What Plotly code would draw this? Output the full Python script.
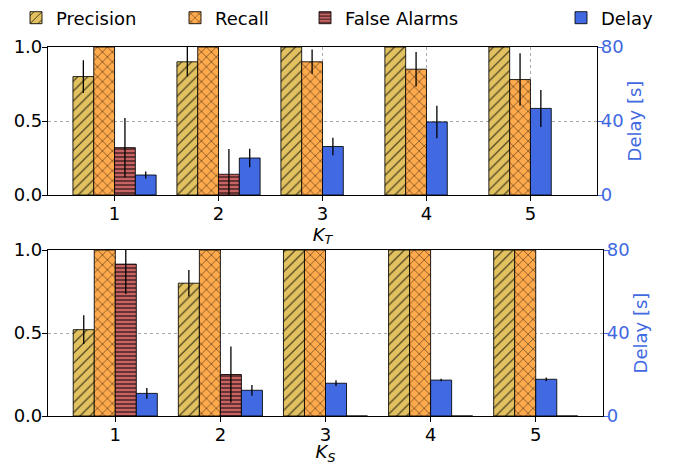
import plotly.graph_objects as go

K = [1, 2, 3, 4, 5]

# Top panel (K_T)
prec_T = [0.80, 0.90, 1.00, 1.00, 1.00]
prec_T_err = [0.11, 0.10, 0.0, 0.0, 0.0]
rec_T = [1.00, 1.00, 0.90, 0.85, 0.78]
rec_T_err = [0.0, 0.0, 0.083, 0.117, 0.177]
fa_T = [0.32, 0.14, None, None, None]
fa_T_err = [0.20, 0.17, 0.0, 0.0, 0.0]
delay_T = [10.8, 20.0, 26.2, 39.5, 46.8]
delay_T_err = [1.9, 5.0, 4.7, 8.8, 10.0]

# Bottom panel (K_S)
prec_S = [0.52, 0.80, 1.00, 1.00, 1.00]
prec_S_err = [0.087, 0.08, 0.0, 0.0, 0.0]
rec_S = [1.00, 1.00, 1.00, 1.00, 1.00]
rec_S_err = [0.0, 0.0, 0.0, 0.0, 0.0]
fa_S = [0.915, 0.25, 0.0, 0.0, 0.0]
fa_S_err = [0.18, 0.168, 0.0, 0.0, 0.0]
delay_S = [10.9, 12.4, 15.8, 17.3, 17.7]
delay_S_err = [2.6, 2.6, 1.4, 0.6, 0.9]

# slot offsets (left edge relative to category): FA and Delay swap slots for K>=3
off_prec = [-0.4] * 5
off_rec = [-0.2] * 5
off_fa = [0.0, 0.0, 0.2, 0.2, 0.2]
off_delay = [0.2, 0.2, 0.0, 0.0, 0.0]

C_PREC = "#e2c160"
C_REC = "#ffaa4c"
C_FA = "#c86363"
C_DELAY = "#4169e1"
EDGE = "rgba(0,0,0,0.85)"
FONT = "DejaVu Sans"

# page body has an 8px margin; work in window pixels and subtract it
OFF = 8
W, H = 675 - OFF, 465 - OFF
PL, PR, PT, PB = 48, 603, 47, 416          # plot block in window pixels
L, T = PL - OFF, PT - OFF
R, B = W - (PR - OFF), H - (PB - OFF)
PW = W - L - R
PH = H - T - B


def eb(arr):
    return dict(type="data", array=arr, visible=True, color="black",
                thickness=1.3, width=0)


def bar(name, y, err, off, color, shape, xa, ya, legend, show, size=7, sol=0.15):
    pattern = dict(shape=shape, fgcolor="rgba(0,0,0,0.9)", fgopacity=0.9,
                   size=size, solidity=sol) if shape else None
    return go.Bar(
        name=name, x=K, y=y, offset=off, width=0.2,
        marker=dict(color=color, line=dict(color=EDGE, width=1),
                    pattern=pattern),
        error_y=eb(err), xaxis=xa, yaxis=ya, legend=legend,
        showlegend=show,
    )


fig = go.Figure()
fig.add_trace(bar("Precision", prec_T, prec_T_err, off_prec, C_PREC, "/", "x", "y", "legend", True))
fig.add_trace(bar("Recall", rec_T, rec_T_err, off_rec, C_REC, "x", "x", "y", "legend2", True))
fig.add_trace(bar("False Alarms", fa_T, fa_T_err, off_fa, C_FA, "-", "x", "y", "legend3", True, size=4, sol=0.3))
fig.add_trace(bar("Delay", delay_T, delay_T_err, off_delay, C_DELAY, "", "x", "y2", "legend4", True))

fig.add_trace(bar("Precision", prec_S, prec_S_err, off_prec, C_PREC, "/", "x2", "y3", "legend", False))
fig.add_trace(bar("Recall", rec_S, rec_S_err, off_rec, C_REC, "x", "x2", "y3", "legend2", False))
fig.add_trace(bar("False Alarms", fa_S, fa_S_err, off_fa, C_FA, "-", "x2", "y3", "legend3", False, size=4, sol=0.3))
fig.add_trace(bar("Delay", delay_S, delay_S_err, off_delay, C_DELAY, "", "x2", "y4", "legend4", False))

top_dom = [(PB - 195) / PH, (PB - 47) / PH]
bot_dom = [0, (PB - 250) / PH]
top_xdom = [0, (597 - PL) / PW]

xcommon = dict(range=[0.36, 5.64], tickvals=K, ticks="outside", ticklen=5,
               tickcolor="black", showline=True, linecolor="black",
               linewidth=1.2, mirror=True, showgrid=True,
               gridcolor="#aaaaaa", griddash="dot", gridwidth=1,
               zeroline=False, ticklabelstandoff=-3,
               tickfont=dict(size=18, color="black"))
ycommon = dict(range=[0, 1], tickvals=[0, 0.5, 1.0], ticktext=["0.0", "0.5", "1.0"],
               ticks="outside", ticklen=5, tickcolor="black", showline=True,
               linecolor="black", linewidth=1.2, showgrid=True,
               gridcolor="#aaaaaa", griddash="dot", gridwidth=1,
               zeroline=False, ticklabelstandoff=-4,
               tickfont=dict(size=18, color="black"))
y2common = dict(range=[0, 80], tickvals=[0, 40, 80], side="right",
                ticks="outside", ticklen=5, tickcolor=C_DELAY, showline=True,
                linecolor="black", linewidth=1.2, showgrid=False,
                zeroline=False, ticklabelstandoff=-6,
                tickfont=dict(size=18, color=C_DELAY),
                title=dict(text="Delay [s]", font=dict(size=18, color=C_DELAY),
                           standoff=5))

fig.update_layout(
    width=W, height=H,
    margin=dict(l=L, r=R, t=T, b=B, autoexpand=False),
    paper_bgcolor="white", plot_bgcolor="white",
    font=dict(family=FONT, size=18, color="black"),
    barmode="overlay",
    xaxis=dict(**xcommon, domain=top_xdom, anchor="y",
               title=dict(text="<i>K</i><sub><i>T</i></sub>", standoff=0,
                          font=dict(size=18))),
    yaxis=dict(**ycommon, domain=top_dom, anchor="x"),
    yaxis2=dict(**y2common, domain=top_dom, anchor="x", overlaying="y"),
    xaxis2=dict(**xcommon, domain=[0, 1], anchor="y3",
                title=dict(text="<i>K</i><sub><i>S</i></sub>", standoff=0,
                           font=dict(size=18))),
    yaxis3=dict(**ycommon, domain=bot_dom, anchor="x2"),
    yaxis4=dict(**y2common, domain=bot_dom, anchor="x2", overlaying="y3"),
)

leg_text_x = [56, 215, 345, 601]
leg_names = ["legend", "legend2", "legend3", "legend4"]
ly = 1 + (PT - 18) / PH
for name, tx in zip(leg_names, leg_text_x):
    fig.update_layout({name: dict(x=(tx - 40 - PL) / PW, y=ly, xanchor="left",
                                  yanchor="middle", bgcolor="rgba(0,0,0,0)",
                                  font=dict(size=18, family=FONT),
                                  orientation="h")})

fig.write_html("out.html")
